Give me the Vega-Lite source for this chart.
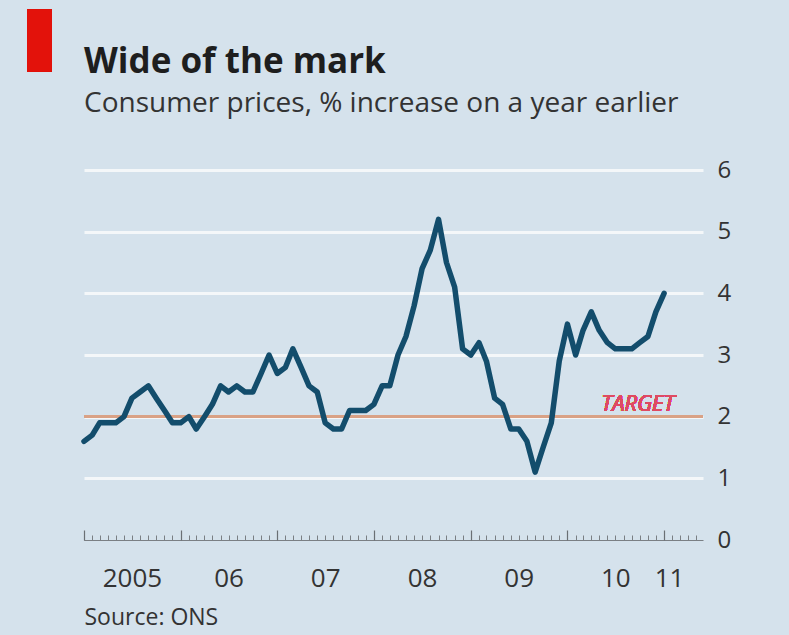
{
  "$schema": "https://vega.github.io/schema/vega-lite/v6.json",
  "autosize": {"type": "none"},
  "width": 619,
  "height": 370,
  "padding": {"left": 84, "top": 170, "right": 86, "bottom": 95},
  "background": "#d5e2ec",
  "title": {
    "text": "Wide of the mark",
    "subtitle": "Consumer prices, % increase on a year earlier",
    "anchor": "start",
    "frame": "group",
    "offset": -108,
    "font": "Open Sans",
    "fontSize": 35,
    "fontWeight": "bold",
    "color": "#1e1e1e",
    "subtitleFont": "Open Sans",
    "subtitleFontSize": 28,
    "subtitleColor": "#333333",
    "subtitlePadding": 10
  },
  "config": {
    "view": {"stroke": null},
    "font": "Open Sans"
  },
  "data": {
    "values": [
      {"date": "2005/01/01", "cpi": 1.6}, {"date": "2005/02/01", "cpi": 1.7}, {"date": "2005/03/01", "cpi": 1.9},
      {"date": "2005/04/01", "cpi": 1.9}, {"date": "2005/05/01", "cpi": 1.9}, {"date": "2005/06/01", "cpi": 2.0},
      {"date": "2005/07/01", "cpi": 2.3}, {"date": "2005/08/01", "cpi": 2.4}, {"date": "2005/09/01", "cpi": 2.5},
      {"date": "2005/10/01", "cpi": 2.3}, {"date": "2005/11/01", "cpi": 2.1}, {"date": "2005/12/01", "cpi": 1.9},
      {"date": "2006/01/01", "cpi": 1.9}, {"date": "2006/02/01", "cpi": 2.0}, {"date": "2006/03/01", "cpi": 1.8},
      {"date": "2006/04/01", "cpi": 2.0}, {"date": "2006/05/01", "cpi": 2.2}, {"date": "2006/06/01", "cpi": 2.5},
      {"date": "2006/07/01", "cpi": 2.4}, {"date": "2006/08/01", "cpi": 2.5}, {"date": "2006/09/01", "cpi": 2.4},
      {"date": "2006/10/01", "cpi": 2.4}, {"date": "2006/11/01", "cpi": 2.7}, {"date": "2006/12/01", "cpi": 3.0},
      {"date": "2007/01/01", "cpi": 2.7}, {"date": "2007/02/01", "cpi": 2.8}, {"date": "2007/03/01", "cpi": 3.1},
      {"date": "2007/04/01", "cpi": 2.8}, {"date": "2007/05/01", "cpi": 2.5}, {"date": "2007/06/01", "cpi": 2.4},
      {"date": "2007/07/01", "cpi": 1.9}, {"date": "2007/08/01", "cpi": 1.8}, {"date": "2007/09/01", "cpi": 1.8},
      {"date": "2007/10/01", "cpi": 2.1}, {"date": "2007/11/01", "cpi": 2.1}, {"date": "2007/12/01", "cpi": 2.1},
      {"date": "2008/01/01", "cpi": 2.2}, {"date": "2008/02/01", "cpi": 2.5}, {"date": "2008/03/01", "cpi": 2.5},
      {"date": "2008/04/01", "cpi": 3.0}, {"date": "2008/05/01", "cpi": 3.3}, {"date": "2008/06/01", "cpi": 3.8},
      {"date": "2008/07/01", "cpi": 4.4}, {"date": "2008/08/01", "cpi": 4.7}, {"date": "2008/09/01", "cpi": 5.2},
      {"date": "2008/10/01", "cpi": 4.5}, {"date": "2008/11/01", "cpi": 4.1}, {"date": "2008/12/01", "cpi": 3.1},
      {"date": "2009/01/01", "cpi": 3.0}, {"date": "2009/02/01", "cpi": 3.2}, {"date": "2009/03/01", "cpi": 2.9},
      {"date": "2009/04/01", "cpi": 2.3}, {"date": "2009/05/01", "cpi": 2.2}, {"date": "2009/06/01", "cpi": 1.8},
      {"date": "2009/07/01", "cpi": 1.8}, {"date": "2009/08/01", "cpi": 1.6}, {"date": "2009/09/01", "cpi": 1.1},
      {"date": "2009/10/01", "cpi": 1.5}, {"date": "2009/11/01", "cpi": 1.9}, {"date": "2009/12/01", "cpi": 2.9},
      {"date": "2010/01/01", "cpi": 3.5}, {"date": "2010/02/01", "cpi": 3.0}, {"date": "2010/03/01", "cpi": 3.4},
      {"date": "2010/04/01", "cpi": 3.7}, {"date": "2010/05/01", "cpi": 3.4}, {"date": "2010/06/01", "cpi": 3.2},
      {"date": "2010/07/01", "cpi": 3.1}, {"date": "2010/08/01", "cpi": 3.1}, {"date": "2010/09/01", "cpi": 3.1},
      {"date": "2010/10/01", "cpi": 3.2}, {"date": "2010/11/01", "cpi": 3.3}, {"date": "2010/12/01", "cpi": 3.7},
      {"date": "2011/01/01", "cpi": 4.0}
    ]
  },
  "layer": [
    {
      "mark": {"type": "rule", "color": "#d9a185", "strokeWidth": 2.5},
      "encoding": {"y": {"datum": 2, "type": "quantitative"}}
    },
    {
      "mark": {"type": "text", "text": "TARGET", "font": "Open Sans", "fontSize": 22, "fontStyle": "italic", "color": "#e04a62", "baseline": "bottom", "align": "center", "dy": -1},
      "encoding": {
        "x": {"datum": {"year": 2010, "month": 9, "date": 24}, "type": "temporal", "axis": null},
        "y": {"datum": 2, "type": "quantitative"}
      }
    },
    {
      "mark": {"type": "rect", "color": "#e3120b"},
      "encoding": {
        "x": {"datum": {"year": 2004, "month": 6, "date": 1}, "type": "temporal", "axis": null},
        "x2": {"datum": {"year": 2004, "month": 9, "date": 1}},
        "y": {"datum": 8.6, "type": "quantitative"},
        "y2": {"datum": 7.6}
      }
    },
    {
      "mark": {"type": "line", "color": "#134d6c", "strokeWidth": 5.5, "strokeJoin": "round", "strokeCap": "round"},
      "encoding": {
        "x": {
          "field": "date",
          "type": "temporal",
          "scale": {"domain": [{"year": 2005, "month": 1, "date": 1}, {"year": 2011, "month": 5, "date": 28}], "nice": false},
          "axis": {
            "orient": "bottom",
            "tickCount": {"interval": "month", "step": 1},
            "tickSize": -5,
            "tickColor": "#7a7f84",
            "tickWidth": 1,
            "labels": false,
            "grid": false,
            "domain": true,
            "domainColor": "#7a7f84",
            "domainWidth": 1.2,
            "title": null
          }
        },
        "y": {
          "field": "cpi",
          "type": "quantitative",
          "scale": {"domain": [0, 6], "nice": false},
          "axis": {
            "orient": "right",
            "values": [0, 1, 2, 3, 4, 5, 6],
            "format": "d",
            "grid": true,
            "gridColor": {"condition": {"test": "datum.value === 0", "value": "transparent"}, "value": "#f4f7f9"},
            "gridWidth": 3,
            "ticks": false,
            "domain": false,
            "labelPadding": 14,
            "labelFont": "Open Sans",
            "labelFontSize": 24,
            "labelColor": "#333333",
            "labelAlign": "left",
            "title": null
          }
        }
      }
    },
    {
      "mark": {"type": "point", "opacity": 0},
      "encoding": {
        "x": {
          "field": "date",
          "type": "temporal",
          "axis": {
            "orient": "bottom",
            "tickCount": {"interval": "year", "step": 1},
            "tickSize": -10,
            "tickColor": "#6a6f74",
            "tickWidth": 1.2,
            "labels": false,
            "grid": false,
            "domain": false,
            "title": null
          }
        }
      }
    },
    {
      "mark": {"type": "point", "opacity": 0},
      "encoding": {
        "x": {
          "field": "date",
          "type": "temporal",
          "axis": {
            "orient": "bottom",
            "values": [
              {"year": 2005, "month": 7, "date": 1}, {"year": 2006, "month": 7, "date": 1},
              {"year": 2007, "month": 7, "date": 1}, {"year": 2008, "month": 7, "date": 1},
              {"year": 2009, "month": 7, "date": 1}, {"year": 2010, "month": 7, "date": 1},
              {"year": 2011, "month": 1, "date": 20}
            ],
            "labelExpr": "year(datum.value) == 2005 ? '2005' : timeFormat(datum.value, '%y')",
            "ticks": false,
            "domain": false,
            "grid": false,
            "labelPadding": 25,
            "labelFont": "Open Sans",
            "labelFontSize": 26,
            "labelColor": "#333333",
            "labelOverlap": false,
            "labelFlush": false,
            "title": "Source: ONS",
            "titleFont": "Open Sans",
            "titleFontSize": 23,
            "titleFontWeight": "normal",
            "titleColor": "#333333",
            "titleAnchor": "start",
            "titleAlign": "left",
            "titlePadding": 15
          }
        }
      }
    }
  ],
  "resolve": {"axis": {"x": "independent"}}
}
